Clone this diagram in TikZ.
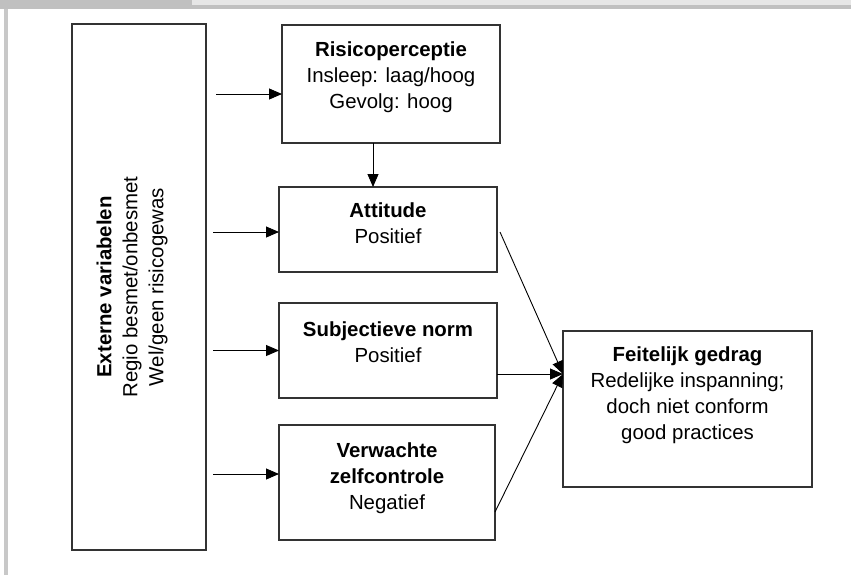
\documentclass[tikz,border=0pt]{standalone}
\usepackage{fontspec}
\setmainfont{Liberation Sans}
\usetikzlibrary{arrows.meta,calc,positioning}
\definecolor{BarGray}{HTML}{C0C0C0}
\definecolor{TabGray}{HTML}{E6E6E6}
\definecolor{EdgeGray}{HTML}{C8C8C8}
\definecolor{BoxLine}{HTML}{333333}

\tikzset{
  box/.style={draw=BoxLine, line width=1.1pt, inner sep=0pt, outer sep=0pt},
  txt/.style={align=center, inner sep=0pt, font=\fontsize{20.4}{26}\selectfont},
  feed/.style={-{Triangle[length=13pt,width=11pt]}, line width=0.9pt, black},
}

\begin{document}
\begin{tikzpicture}[x=1pt, y=-1pt]
    \useasboundingbox (0,0) rectangle (851,576);

    % Page frame (grey bars)
    \fill[white] (0,0) rectangle (851,576);
    \fill[BarGray] (0,0) rectangle (192,9);
    \fill[TabGray] (192,0) rectangle (851,5);
    \fill[BarGray] (192,5) rectangle (851,9);
    \fill[EdgeGray] (4,9) rectangle (8,575);

    % Boxes
    \node[box, minimum width=134pt, minimum height=526pt] (ext) at (139,287) {};
    \node[box, minimum width=218pt, minimum height=118pt] (risico) at (391,84) {};
    \node[box, minimum width=218pt, minimum height=85pt] (attitude) at (388,229.5) {};
    \node[box, minimum width=218pt, minimum height=95pt] (subj) at (388,350.5) {};
    \node[box, minimum width=216pt, minimum height=115pt] (zelf) at (387,482.5) {};
    \node[box, minimum width=249pt, minimum height=156pt] (gedrag) at (687.5,409) {};

    % Box texts
    \node[txt, rotate=90] (extTxt) at ([xshift=-7pt]ext.center)
        {\textbf{Externe variabelen}\\Regio besmet/onbesmet\\Wel/geen risicogewas};
    \node[txt, below=17pt of risico.north] (risicoTxt)
        {\textbf{Risicoperceptie}\\Insleep: laag/hoog\\Gevolg: hoog};
    \node[txt, below=16pt of attitude.north] (attitudeTxt)
        {\textbf{Attitude}\\Positief};
    \node[txt, below=19pt of subj.north] (subjTxt)
        {\textbf{Subjectieve norm}\\Positief};
    \node[txt, below=18pt of zelf.north] (zelfTxt)
        {\textbf{Verwachte}\\\textbf{zelfcontrole}\\Negatief};
    \node[txt, below=16pt of gedrag.north] (gedragTxt)
        {\textbf{Feitelijk gedrag}\\Redelijke inspanning;\\doch niet conform\\good practices};

    % Arrows from the external variables
    \coordinate (inRisico) at ([yshift=-10pt]risico.west);
    \coordinate (inAttitude) at ([yshift=-2.5pt]attitude.west);
    \coordinate (inSubj) at (subj.west);
    \coordinate (inZelf) at ([yshift=8.5pt]zelf.west);
    \draw[feed, shorten <=10pt] (ext.east |- inRisico) -- (inRisico);
    \draw[feed, shorten <=7pt] (ext.east |- inAttitude) -- (inAttitude);
    \draw[feed, shorten <=7pt] (ext.east |- inSubj) -- (inSubj);
    \draw[feed, shorten <=7pt] (ext.east |- inZelf) -- (inZelf);

    % Risk perception to attitude
    \draw[feed] ([xshift=-18pt]risico.south) -- ([xshift=-18pt]risico.south |- attitude.north);

    % Converging arrows to behaviour
    \coordinate (hit) at ([yshift=35pt]gedrag.west);
    \draw[feed] ([xshift=3pt,yshift=-2.5pt]attitude.east) -- (hit);
    \draw[feed] (subj.east |- hit) -- (hit);
    \draw[feed] ([yshift=-29.5pt]zelf.east) -- (hit);

\end{tikzpicture}
\end{document}
